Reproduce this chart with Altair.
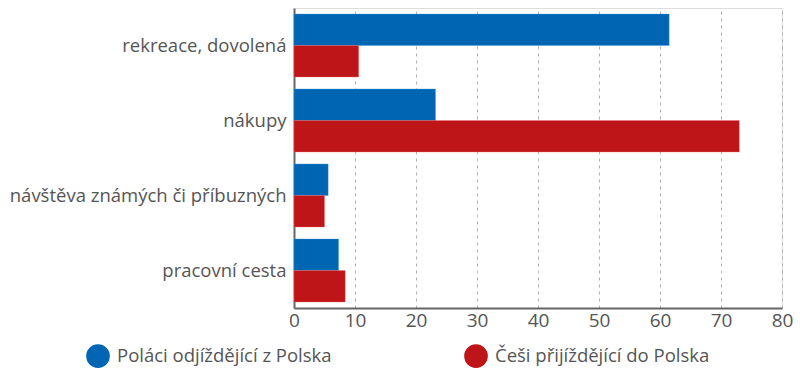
import altair as alt
import pandas as pd

categories = ["rekreace, dovolená", "nákupy", "návštěva známých či příbuzných", "pracovní cesta"]
series = ["Poláci odjíždějící z Polska", "Češi přijíždějící do Polska"]
poles = [61.5, 23.2, 5.6, 7.3]
czechs = [10.6, 73.0, 5.0, 8.4]
colors = ["#0066b3", "#be1518"]

rows = []
for c, p, z in zip(categories, poles, czechs):
    rows.append({"kategorie": c, "skupina": series[0], "hodnota": p})
    rows.append({"kategorie": c, "skupina": series[1], "hodnota": z})
df = pd.DataFrame(rows)

FONT = "Open Sans"

chart = alt.Chart(df).mark_bar(strokeWidth=1, strokeOpacity=0.35).encode(
    x=alt.X("hodnota:Q",
            scale=alt.Scale(domain=[0, 80], nice=False),
            axis=alt.Axis(values=list(range(0, 81, 10)), title=None, ticks=False,
                          grid=True, gridDash=[3, 4], gridColor="#b0b0b0", gridWidth=1,
                          domainColor="#666666", domainWidth=2, labelFlush=False,
                          labelFont=FONT, labelFontSize=19, labelColor="#555555",
                          labelPadding=3)),
    y=alt.Y("kategorie:N", sort=categories,
            scale=alt.Scale(paddingInner=0.16, paddingOuter=0.08),
            axis=alt.Axis(title=None, ticks=False, grid=False,
                          domainColor="#666666", domainWidth=2,
                          labelFont=FONT, labelFontSize=18.5, labelColor="#555555",
                          labelPadding=8, labelLimit=400)),
    yOffset=alt.YOffset("skupina:N", sort=series, scale=alt.Scale(paddingInner=0, paddingOuter=0)),
    color=alt.Color("skupina:N", sort=series,
                    scale=alt.Scale(domain=series, range=colors),
                    legend=alt.Legend(title=None, orient="none", legendX=-208, legendY=336,
                                      direction="horizontal", columns=2, columnPadding=132,
                                      symbolType="circle", symbolSize=560, symbolStrokeWidth=0,
                                      labelFont=FONT, labelFontSize=18.5, labelColor="#555555",
                                      labelOffset=7, labelLimit=400)),
    stroke=alt.Stroke("skupina:N", sort=series,
                      scale=alt.Scale(domain=series, range=["#3a9ae0", "#f07070"]),
                      legend=None),
).properties(
    width=488, height=300,
    autosize=alt.AutoSizeParams(type="none"),
    padding={"left": 294, "top": 8, "right": 18, "bottom": 68},
).configure_view(stroke=None).configure(background="white")

chart.save("out.html", embed_options={"renderer": "svg", "actions": False})
